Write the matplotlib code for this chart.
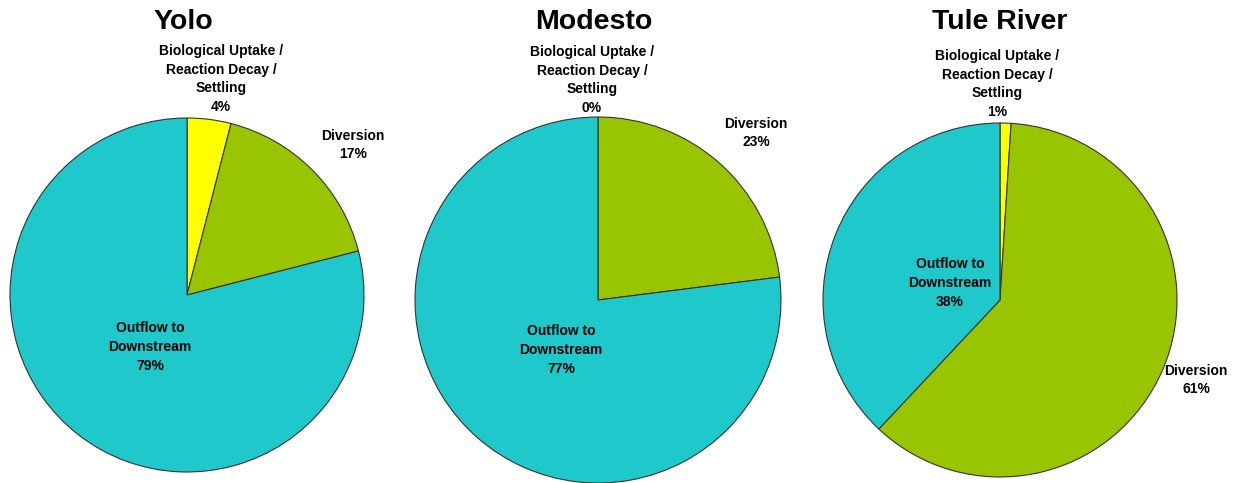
import matplotlib.pyplot as plt

plt.rcParams['font.family'] = ['Liberation Sans', 'DejaVu Sans']

# data
sites = ["Yolo", "Modesto", "Tule River"]
categories = ["Biological Uptake /\nReaction Decay /\nSettling", "Diversion", "Outflow to\nDownstream"]
yolo = [4, 17, 79]
modesto = [0, 23, 77]
tule = [1, 61, 38]
shares = [yolo, modesto, tule]
colors = ["#FFFF00", "#99C400", "#1FC8CA"]

# layout in pixels (y measured from top)
W, H = 1247, 483
centers = [(187, 295), (598, 300), (1000, 300)]
radii = [177, 183, 177]
title_x = [183, 594, 1000]
label_pos = [
    [(221, 79), (353, 145), (150, 347)],
    [(592, 80), (756, 133), (561, 350)],
    [(997, 84), (1196, 380), (950, 283)],
]

fig = plt.figure(figsize=(W / 100, H / 100), dpi=100)
ax = fig.add_axes([0, 0, 1, 1])

for i, site in enumerate(sites):
    cx, cy = centers[i]
    ax.pie(shares[i], colors=colors, startangle=90, counterclock=False,
           center=(cx, H - cy), radius=radii[i],
           wedgeprops=dict(edgecolor="#333333", linewidth=0.8))
    ax.text(title_x[i], H - 22, site, ha="center", va="center",
            fontsize=20.5, fontweight="bold")
    for j, cat in enumerate(categories):
        lx, ly = label_pos[i][j]
        ax.text(lx, H - ly, f"{cat}\n{shares[i][j]}%", ha="center", va="center",
                fontsize=10, fontweight="bold", linespacing=1.45)

ax.set_xlim(0, W)
ax.set_ylim(0, H)
ax.set_aspect("equal")
ax.axis("off")
fig.savefig("out.png", dpi=100)
